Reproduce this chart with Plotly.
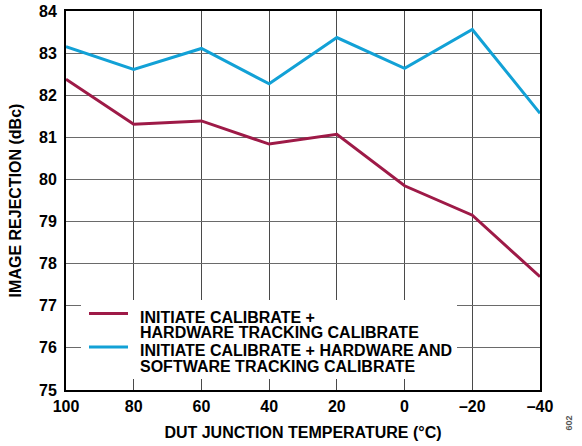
import plotly.graph_objects as go

temps = [100, 80, 60, 40, 20, 0, -20, -40]
hw_tracking = [82.38, 81.31, 81.39, 80.84, 81.07, 79.85, 79.15, 77.69]
hw_sw_tracking = [83.15, 82.61, 83.11, 82.27, 83.37, 82.64, 83.56, 81.57]
x_tickvals = [100, 80, 60, 40, 20, 0, -20, -40]
x_ticktext = ["100", "80", "60", "40", "20", "0", "\u201320", "\u201340"]
y_tickvals = [75, 76, 77, 78, 79, 80, 81, 82, 83, 84]
series_names = [
    ["INITIATE CALIBRATE +", "HARDWARE TRACKING CALIBRATE"],
    ["INITIATE CALIBRATE + HARDWARE AND", "SOFTWARE TRACKING CALIBRATE"],
]
series_colors = ["#9E1A47", "#12A1D6"]

FONT = "Liberation Sans, Arial, sans-serif"
W, H = 582, 446
L, R, T, B = 66, 42, 11, 56
PW, PH = W - L - R, H - T - B


def px(xp):  # page pixel x -> paper
    return (xp - L) / PW


def py(yp):  # page pixel y -> paper
    return (H - B - yp) / PH


fig = go.Figure()
for vals, names, col in zip([hw_tracking, hw_sw_tracking], series_names, series_colors):
    fig.add_trace(go.Scatter(
        x=temps, y=vals, mode="lines", name=" ".join(names),
        line=dict(color=col, width=3), showlegend=False,
    ))

bold = dict(family=FONT, size=16, color="black", weight="bold")
fig.update_layout(
    width=W, height=H,
    margin=dict(l=L, r=R, t=T, b=B, autoexpand=False),
    paper_bgcolor="white", plot_bgcolor="white",
    font=bold, showlegend=False,
)
fig.update_xaxes(
    range=[100, -40], tickvals=x_tickvals, ticktext=x_ticktext,
    showgrid=True, gridcolor="#4a4a4a", gridwidth=1,
    showline=True, linecolor="black", linewidth=2, mirror=True,
    zeroline=False, ticks="", ticklabelstandoff=1, automargin=False,
    tickfont=bold,
    title=dict(text="DUT JUNCTION TEMPERATURE (\u00b0C)", standoff=13, font=bold),
)
fig.update_yaxes(
    range=[75, 84], tickvals=y_tickvals,
    showgrid=True, gridcolor="#6a6a6a", gridwidth=1,
    showline=True, linecolor="black", linewidth=2, mirror=True,
    zeroline=False, ticks="", ticklabelstandoff=4, automargin=False,
    tickfont=bold,
    title=dict(text="IMAGE REJECTION (dBc)", standoff=13, font=bold),
)

# legend box
fig.add_shape(type="rect", xref="paper", yref="paper",
              x0=px(81), x1=px(457), y0=py(379), y1=py(300),
              fillcolor="white", line=dict(width=0), layer="above")
sample_y = [313.5, 347]
text_y = [[316, 331.5], [349.5, 365]]
for i, (names, col) in enumerate(zip(series_names, series_colors)):
    fig.add_shape(type="line", xref="paper", yref="paper",
                  x0=px(89), x1=px(128), y0=py(sample_y[i]), y1=py(sample_y[i]),
                  line=dict(color=col, width=3), layer="above")
    for txt, ty in zip(names, text_y[i]):
        fig.add_annotation(text=txt, xref="paper", yref="paper",
                           x=px(138), y=py(ty + 1), xanchor="left", yanchor="middle",
                           height=15, valign="middle",
                           showarrow=False, font=bold)

fig.add_annotation(
    text="602", xref="paper", yref="paper",
    x=px(575), y=py(433), showarrow=False, textangle=-90,
    font=dict(family=FONT, size=9, color="#555555"),
)

fig.write_html("out.html", config={"displayModeBar": False},
               post_script="document.body.style.margin='0';")
